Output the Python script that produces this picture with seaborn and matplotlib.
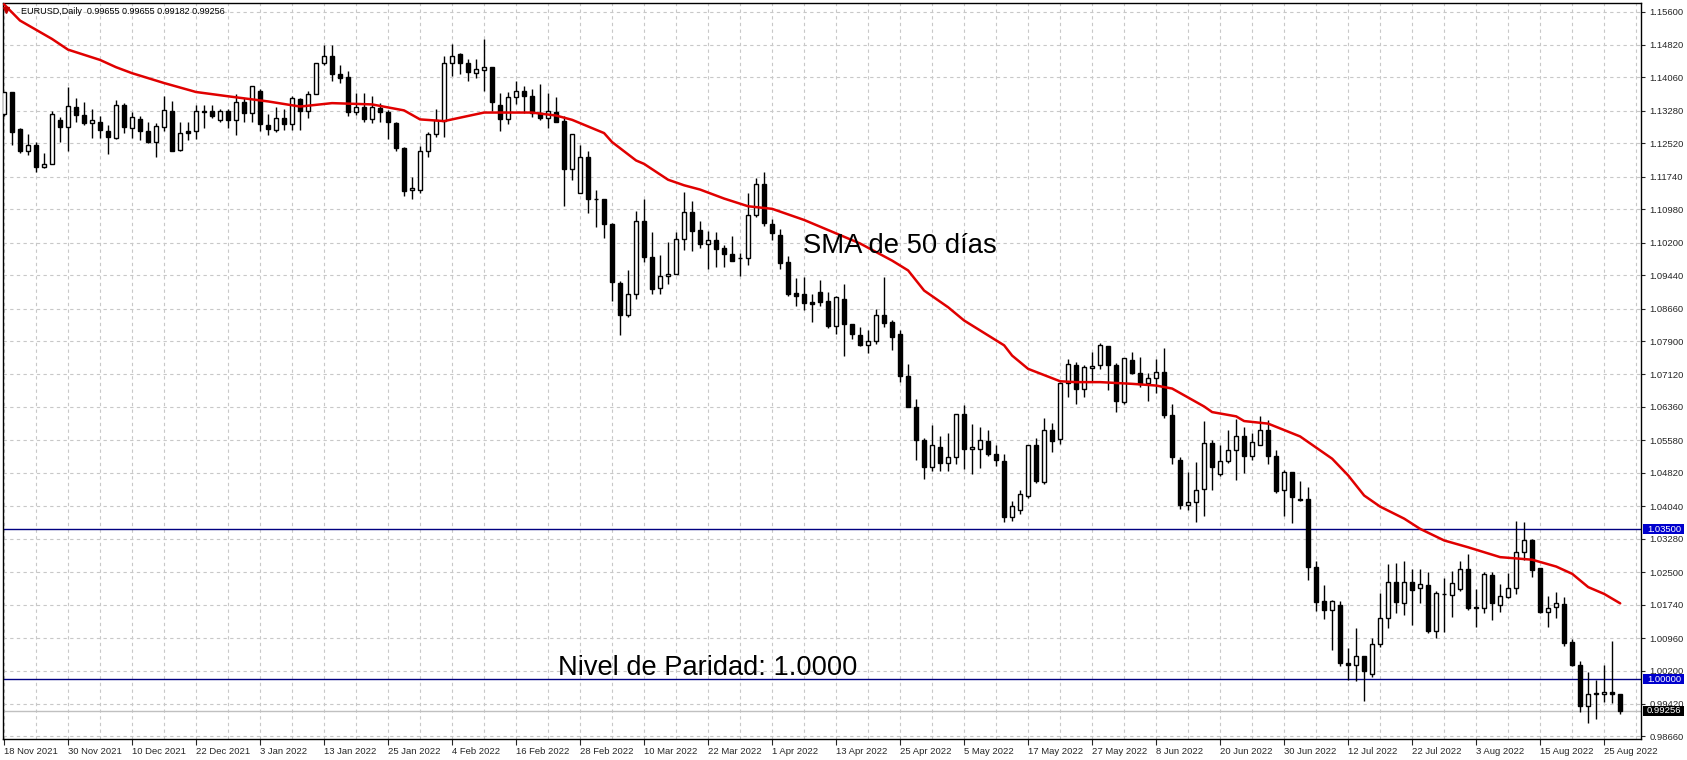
import numpy as np
import pandas as pd
import matplotlib
matplotlib.use("Agg")
import matplotlib.pyplot as plt
import matplotlib.transforms as mtransforms
from matplotlib.patches import Rectangle
import seaborn as sns

sns.set_style("white")
plt.rcParams['font.family'] = ['Liberation Sans', 'DejaVu Sans']

# ---------------- data ----------------
start_date = "2021-11-18"

opens = [1.1321, 1.1372, 1.1286, 1.1234, 1.1248, 1.1196, 1.1204, 1.1306, 1.1290, 1.1338,
         1.1319, 1.1299, 1.1301, 1.1280, 1.1264, 1.1341, 1.1288, 1.1309, 1.1280, 1.1256,
         1.1290, 1.1328, 1.1237, 1.1280, 1.1280, 1.1328, 1.1327, 1.1306, 1.1327, 1.1306,
         1.1348, 1.1324, 1.1374, 1.1295, 1.1284, 1.1311, 1.1298, 1.1356, 1.1328, 1.1368,
         1.1440, 1.1456, 1.1415, 1.1406, 1.1325, 1.1338, 1.1309, 1.1334, 1.1325, 1.1299,
         1.1242, 1.1142, 1.1144, 1.1233, 1.1274, 1.1305, 1.1440, 1.1460, 1.1440, 1.1416,
         1.1424, 1.1431, 1.1342, 1.1309, 1.1361, 1.1375, 1.1363, 1.1324, 1.1311, 1.1326,
         1.1305, 1.1193, 1.1137, 1.1220, 1.1123, 1.1123, 1.1064, 1.0925, 1.0851, 1.0900,
         1.1071, 1.0987, 1.0913, 1.0942, 1.0947, 1.1029, 1.1091, 1.1050, 1.1017, 1.1027,
         1.1007, 1.0994, 1.0984, 1.0984, 1.1085, 1.1158, 1.1064, 1.1038, 1.0974, 1.0903,
         1.0899, 1.0881, 1.0905, 1.0884, 1.0824, 1.0888, 1.0831, 1.0803, 1.0780, 1.0790,
         1.0851, 1.0834, 1.0806, 1.0709, 1.0637, 1.0558, 1.0495, 1.0543, 1.0504, 1.0518,
         1.0620, 1.0537, 1.0538, 1.0557, 1.0527, 1.0510, 1.0378, 1.0395, 1.0428, 1.0548,
         1.0460, 1.0582, 1.0560, 1.0693, 1.0733, 1.0677, 1.0726, 1.0733, 1.0779, 1.0734,
         1.0648, 1.0746, 1.0716, 1.0693, 1.0703, 1.0718, 1.0618, 1.0513, 1.0408, 1.0413,
         1.0444, 1.0552, 1.0480, 1.0509, 1.0536, 1.0568, 1.0521, 1.0548, 1.0583, 1.0521,
         1.0442, 1.0485, 1.0421, 1.0421, 1.0263, 1.0183, 1.0161, 1.0172, 1.0038, 1.0034,
         1.0053, 1.0013, 1.0081, 1.0143, 1.0226, 1.0177, 1.0228, 1.0212, 1.0221, 1.0113,
         1.0199, 1.0196, 1.0211, 1.0258, 1.0169, 1.0165, 1.0243, 1.0173, 1.0193, 1.0212,
         1.0297, 1.0324, 1.0260, 1.0157, 1.0168, 1.0176, 1.0086, 1.0034, 0.9938, 0.9966,
         0.9964, 0.9971, 0.99655]

highs = [1.1372, 1.1372, 1.1289, 1.1274, 1.1255, 1.1229, 1.1327, 1.1313, 1.1383, 1.1359,
         1.1348, 1.1333, 1.1315, 1.1295, 1.1354, 1.1346, 1.1325, 1.1317, 1.1302, 1.1299,
         1.1362, 1.1350, 1.1303, 1.1303, 1.1342, 1.1342, 1.1342, 1.1333, 1.1333, 1.1368,
         1.1358, 1.1387, 1.1379, 1.1321, 1.1338, 1.1333, 1.1362, 1.1359, 1.1375, 1.1440,
         1.1483, 1.1483, 1.1436, 1.1420, 1.1370, 1.1370, 1.1362, 1.1346, 1.1331, 1.1303,
         1.1244, 1.1174, 1.1246, 1.1279, 1.1332, 1.1456, 1.1485, 1.1463, 1.1449, 1.1449,
         1.1496, 1.1431, 1.1370, 1.1371, 1.1398, 1.1387, 1.1379, 1.1391, 1.1369, 1.1361,
         1.1316, 1.1274, 1.1248, 1.1234, 1.1144, 1.1123, 1.1066, 1.0931, 1.0956, 1.1095,
         1.1121, 1.1044, 1.0992, 1.1021, 1.1046, 1.1138, 1.1118, 1.1070, 1.1048, 1.1044,
         1.1015, 1.1036, 1.0996, 1.1136, 1.1170, 1.1185, 1.1076, 1.1053, 1.0988, 1.0937,
         1.0940, 1.0901, 1.0932, 1.0905, 1.0896, 1.0924, 1.0831, 1.0823, 1.0816, 1.0866,
         1.0939, 1.0839, 1.0815, 1.0737, 1.0655, 1.0563, 1.0593, 1.0567, 1.0576, 1.0620,
         1.0641, 1.0596, 1.0589, 1.0583, 1.0547, 1.0527, 1.0417, 1.0441, 1.0548, 1.0564,
         1.0609, 1.0599, 1.0694, 1.0747, 1.0740, 1.0733, 1.0765, 1.0786, 1.0779, 1.0738,
         1.0750, 1.0765, 1.0753, 1.0716, 1.0747, 1.0773, 1.0642, 1.0518, 1.0483, 1.0507,
         1.0602, 1.0559, 1.0546, 1.0583, 1.0607, 1.0589, 1.0574, 1.0616, 1.0605, 1.0536,
         1.0489, 1.0485, 1.0464, 1.0450, 1.0275, 1.0220, 1.0186, 1.0183, 1.0073, 1.0120,
         1.0053, 1.0095, 1.0201, 1.0270, 1.0272, 1.0277, 1.0258, 1.0258, 1.0251, 1.0205,
         1.0236, 1.0252, 1.0275, 1.0293, 1.0211, 1.0251, 1.0250, 1.0222, 1.0247, 1.0369,
         1.0367, 1.0328, 1.0260, 1.0195, 1.0204, 1.0193, 1.0094, 1.0043, 1.0016, 0.9997,
         1.0032, 1.0089, 0.99655]

lows = [1.1315, 1.1248, 1.1229, 1.1225, 1.1184, 1.1194, 1.1204, 1.1256, 1.1234, 1.1303,
        1.1295, 1.1264, 1.1264, 1.1227, 1.1263, 1.1276, 1.1264, 1.1260, 1.1252, 1.1219,
        1.1281, 1.1234, 1.1234, 1.1260, 1.1263, 1.1288, 1.1311, 1.1303, 1.1288, 1.1272,
        1.1303, 1.1303, 1.1280, 1.1272, 1.1278, 1.1284, 1.1284, 1.1284, 1.1311, 1.1368,
        1.1436, 1.1398, 1.1393, 1.1315, 1.1319, 1.1303, 1.1299, 1.1303, 1.1263, 1.1233,
        1.1129, 1.1121, 1.1137, 1.1220, 1.1267, 1.1267, 1.1410, 1.1414, 1.1397, 1.1405,
        1.1375, 1.1328, 1.1280, 1.1298, 1.1345, 1.1324, 1.1314, 1.1306, 1.1288, 1.1301,
        1.1105, 1.1166, 1.1137, 1.1090, 1.1057, 1.1031, 1.0884, 1.0804, 1.0847, 1.0888,
        1.0974, 1.0899, 1.0899, 1.0923, 1.0946, 1.1003, 1.1001, 1.1007, 1.0958, 1.0963,
        1.0963, 1.0976, 1.0942, 1.0968, 1.1079, 1.1060, 1.1027, 1.0958, 1.0895, 1.0873,
        1.0862, 1.0834, 1.0872, 1.0821, 1.0807, 1.0756, 1.0795, 1.0778, 1.0761, 1.0782,
        1.0823, 1.0770, 1.0694, 1.0636, 1.0511, 1.0468, 1.0487, 1.0487, 1.0487, 1.0502,
        1.0490, 1.0479, 1.0493, 1.0522, 1.0499, 1.0368, 1.0370, 1.0386, 1.0424, 1.0458,
        1.0457, 1.0530, 1.0549, 1.0659, 1.0642, 1.0659, 1.0695, 1.0724, 1.0675, 1.0625,
        1.0642, 1.0714, 1.0683, 1.0651, 1.0669, 1.0609, 1.0503, 1.0398, 1.0394, 1.0368,
        1.0380, 1.0443, 1.0474, 1.0505, 1.0466, 1.0481, 1.0511, 1.0548, 1.0502, 1.0434,
        1.0380, 1.0364, 1.0416, 1.0232, 1.0159, 1.0141, 1.0069, 1.0030, 0.9997, 0.9995,
        0.9948, 1.0004, 1.0074, 1.0119, 1.0154, 1.0150, 1.0127, 1.0177, 1.0107, 1.0096,
        1.0111, 1.0144, 1.0205, 1.0162, 1.0121, 1.0154, 1.0139, 1.0157, 1.0189, 1.0200,
        1.0279, 1.0238, 1.0154, 1.0121, 1.0143, 1.0077, 1.0030, 0.9922, 0.9897, 0.9907,
        0.9946, 0.9944, 0.99182]

closes = [1.1372, 1.1278, 1.1233, 1.1248, 1.1196, 1.1204, 1.1321, 1.1290, 1.1340, 1.1319,
          1.1299, 1.1307, 1.1283, 1.1266, 1.1342, 1.1290, 1.1313, 1.1282, 1.1256, 1.1293,
          1.1331, 1.1235, 1.1276, 1.1276, 1.1328, 1.1325, 1.1315, 1.1327, 1.1306, 1.1348,
          1.1323, 1.1387, 1.1298, 1.1285, 1.1311, 1.1297, 1.1359, 1.1328, 1.1368, 1.1440,
          1.1456, 1.1415, 1.1405, 1.1325, 1.1338, 1.1309, 1.1338, 1.1325, 1.1302, 1.1241,
          1.1140, 1.1147, 1.1233, 1.1274, 1.1306, 1.1440, 1.1455, 1.1440, 1.1418, 1.1426,
          1.1431, 1.1348, 1.1309, 1.1361, 1.1375, 1.1362, 1.1324, 1.1311, 1.1327, 1.1303,
          1.1193, 1.1274, 1.1220, 1.1123, 1.1122, 1.1064, 1.0929, 1.0851, 1.0900, 1.1071,
          1.0986, 1.0912, 1.0942, 1.0947, 1.1029, 1.1091, 1.1048, 1.1017, 1.1027, 1.1006,
          1.0993, 1.0978, 1.0985, 1.1085, 1.1158, 1.1066, 1.1042, 1.0972, 1.0900, 1.0895,
          1.0880, 1.0876, 1.0881, 1.0825, 1.0893, 1.0831, 1.0806, 1.0780, 1.0790, 1.0852,
          1.0833, 1.0800, 1.0709, 1.0636, 1.0558, 1.0495, 1.0546, 1.0504, 1.0518, 1.0620,
          1.0537, 1.0542, 1.0559, 1.0526, 1.0511, 1.0378, 1.0405, 1.0433, 1.0548, 1.0462,
          1.0583, 1.0557, 1.0691, 1.0736, 1.0678, 1.0729, 1.0732, 1.0780, 1.0733, 1.0651,
          1.0750, 1.0716, 1.0689, 1.0704, 1.0718, 1.0618, 1.0519, 1.0408, 1.0415, 1.0442,
          1.0552, 1.0495, 1.0509, 1.0536, 1.0568, 1.0521, 1.0554, 1.0583, 1.0521, 1.0440,
          1.0485, 1.0425, 1.0419, 1.0263, 1.0181, 1.0161, 1.0183, 1.0038, 1.0034, 1.0055,
          1.0020, 1.0082, 1.0143, 1.0226, 1.0180, 1.0228, 1.0209, 1.0222, 1.0113, 1.0201,
          1.0200, 1.0225, 1.0258, 1.0165, 1.0166, 1.0246, 1.0177, 1.0195, 1.0213, 1.0298,
          1.0324, 1.0254, 1.0156, 1.0167, 1.0178, 1.0085, 1.0034, 0.9938, 0.9966, 0.9967,
          0.9971, 0.9964, 0.99256]

# SMA(50) curve: bar number and value
sma_bar = [0, 2, 6, 8, 12, 14, 16, 20, 24, 28, 33, 37, 41, 46, 50, 52, 55, 60, 66, 69,
           71, 75, 76, 79, 80, 83, 85, 87, 90, 93, 96, 100, 107, 111, 113, 115, 118, 120,
           125, 126, 128, 132, 134, 137, 141, 144, 146, 150, 151, 154, 155, 158, 162, 166,
           168, 170, 172, 175, 177, 180, 183, 187, 191, 194, 196, 198, 200, 202]
sma_value = [1.1577, 1.1539, 1.1496, 1.1471, 1.1447, 1.1430, 1.1416, 1.1393, 1.1372, 1.1362,
             1.1350, 1.1338, 1.1346, 1.1343, 1.1329, 1.1308, 1.1304, 1.1324, 1.1324, 1.1317,
             1.1307, 1.1276, 1.1255, 1.1212, 1.1204, 1.1167, 1.1154, 1.1144, 1.1123, 1.1105,
             1.1099, 1.1073, 1.1018, 1.0978, 1.0955, 1.0908, 1.0869, 1.0838, 1.0780, 1.0756,
             1.0725, 1.0696, 1.0694, 1.0694, 1.0690, 1.0686, 1.0679, 1.0637, 1.0624, 1.0614,
             1.0603, 1.0597, 1.0567, 1.0515, 1.0476, 1.0429, 1.0403, 1.0375, 1.0351, 1.0324,
             1.0308, 1.0285, 1.0279, 1.0263, 1.0246, 1.0215, 1.0199, 1.0177]

ytick_values = [0.98660, 0.99420, 1.00200, 1.00960, 1.01740, 1.02500, 1.03280, 1.04040,
                1.04820, 1.05580, 1.06360, 1.07120, 1.07900, 1.08660, 1.09440, 1.10200,
                1.10980, 1.11740, 1.12520, 1.13280, 1.14060, 1.14820, 1.15600]

resistance_level = 1.03500
parity_level = 1.00000
last_price = 0.99256
header_text = "EURUSD,Daily  0.99655 0.99655 0.99182 0.99256"
sma_label = "SMA de 50 días"
parity_label = "Nivel de Paridad: 1.0000"

# ---------------- figure ----------------
W, H = 1687, 760
fig = plt.figure(figsize=(W / 100, H / 100), dpi=100, facecolor="white")
ax = fig.add_axes([3 / W, 21 / H, 1638 / W, 736 / H])
ax.set_facecolor("white")

n = len(opens)
dates = pd.bdate_range(start_date, periods=n)
df = pd.DataFrame({"date": dates, "open": opens, "high": highs,
                   "low": lows, "close": closes})
df["bar"] = np.arange(n)
df["up"] = df["close"] >= df["open"]
df["body_low"] = df[["open", "close"]].min(axis=1)
df["body_h"] = (df["close"] - df["open"]).abs().clip(lower=0.00002)

# wicks
ax.vlines(df["bar"], df["low"], df["high"], color="black", lw=1.0, zorder=2)
# bodies
upd = df[df["up"]]
dnd = df[~df["up"]]
ax.bar(upd["bar"], upd["body_h"], bottom=upd["body_low"], width=0.52,
       color="white", edgecolor="black", linewidth=1.0, zorder=3)
ax.bar(dnd["bar"], dnd["body_h"], bottom=dnd["body_low"], width=0.52,
       color="black", edgecolor="black", linewidth=1.0, zorder=3)

# SMA line
sma_df = pd.DataFrame({"bar": sma_bar, "sma": sma_value})
sns.lineplot(data=sma_df, x="bar", y="sma", color="#e00000", lw=1.8, ax=ax,
             zorder=4, legend=False)

# horizontal levels
ax.axhline(resistance_level, color="#000080", lw=1.0, zorder=1.5)
ax.axhline(parity_level, color="#000080", lw=1.0, zorder=1.5)
ax.axhline(last_price, color="#c0c0c0", lw=1.0, zorder=1.2)

# limits
ax.set_xlim(-0.125, 204.6)
ax.set_ylim(0.98600, 1.15800)

# x ticks
xt = np.arange(0, n, 8)
ax.set_xticks(xt)
ax.set_xticklabels([f"{d.day} {d.strftime('%b %Y')}" for d in dates[xt]],
                   ha="left", fontsize=6.8)
ax.set_xticks(np.arange(4, n + 2, 8), minor=True)
# y ticks on right
ax.yaxis.tick_right()
ax.set_yticks(ytick_values)
ax.set_yticklabels([f"{v:.5f}" for v in ytick_values], fontsize=6.8)
ax.tick_params(axis="x", which="major", length=4, width=0.8, pad=2, direction="out",
               bottom=True)
ax.tick_params(axis="x", which="minor", length=0)
ax.tick_params(axis="y", length=3, width=0.8, pad=3, direction="out", right=True)

ax.set_xlabel("")
ax.set_ylabel("")

# grid
ax.set_axisbelow(True)
ax.grid(True, which="both", axis="x", color="#c8c8c8", linestyle=(0, (3, 3)), lw=0.8)
ax.grid(True, which="major", axis="y", color="#c8c8c8", linestyle=(0, (3, 3)), lw=0.8)

for sp in ax.spines.values():
    sp.set_color("black")
    sp.set_linewidth(1.0)
    sp.set_visible(True)

# price-tag boxes on right axis
trans = mtransforms.blended_transform_factory(ax.transAxes, ax.transData)
px_per_price = 736 / (1.15800 - 0.98600)
box_h = 10 / px_per_price
box_x = 1.0012
box_w = 41 / 1638
for lvl, col in [(resistance_level, "#0000cd"), (parity_level, "#0000cd"),
                 (last_price, "black")]:
    ax.add_patch(Rectangle((box_x, lvl - box_h / 2), box_w, box_h, transform=trans,
                           facecolor=col, edgecolor="none", clip_on=False, zorder=10))
    ax.text(box_x + 0.0025, lvl, f"{lvl:.5f}", transform=trans, color="white",
            fontsize=6.8, ha="left", va="center", clip_on=False, zorder=11)

# annotations
ax.text(99.9, 1.1013, sma_label, fontsize=19.7, ha="left", va="center",
        color="black", zorder=6)
ax.text(69.3, 1.0027, parity_label, fontsize=19.6, ha="left", va="center",
        color="black", zorder=6)

# header
ax.text(0.011, 0.994, header_text, transform=ax.transAxes, fontsize=6.5,
        ha="left", va="top", color="black", zorder=12)
ax.plot([0.002], [0.990], transform=ax.transAxes, marker="v", color="#c00000",
        markersize=4, clip_on=False, zorder=12)

fig.savefig("out.png", dpi=100, facecolor="white")
